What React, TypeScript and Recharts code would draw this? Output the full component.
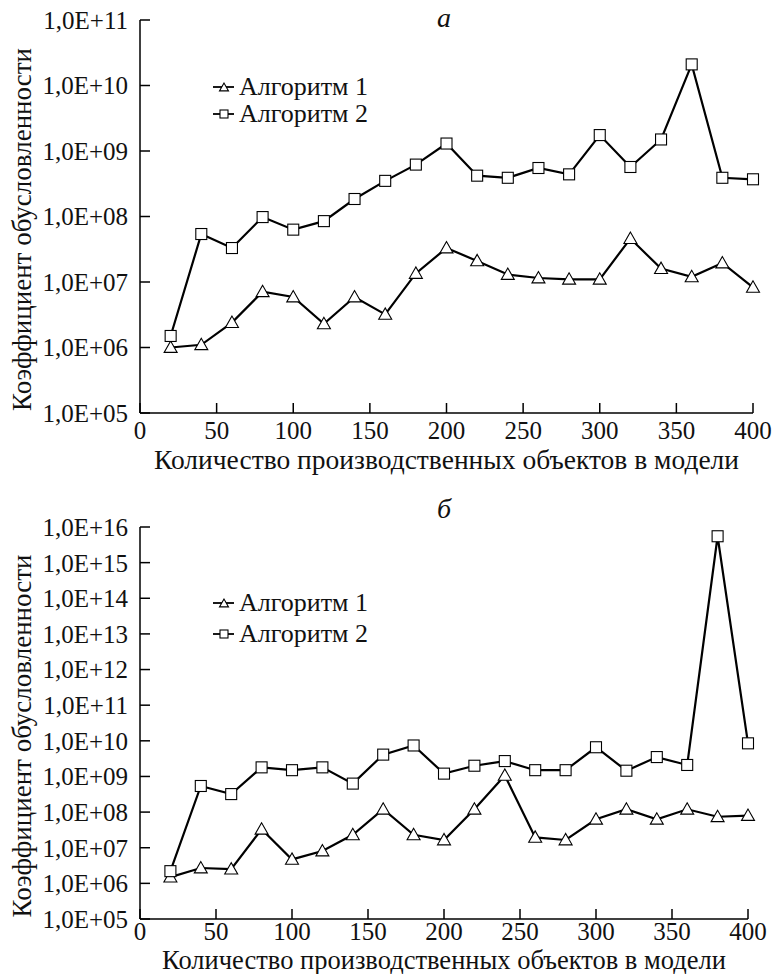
import {Legend, Line, LineChart, XAxis, YAxis} from 'recharts';

const FONT = 'Liberation Serif, DejaVu Serif, serif';

// number of production objects in the model
const objects = [20, 40, 60, 80, 100, 120, 140, 160, 180, 200, 220, 240, 260, 280, 300, 320, 340, 360, 380, 400];
const xTicks = [0, 50, 100, 150, 200, 250, 300, 350, 400];

// panel а
const algo1A = [1.0e6, 1.1e6, 2.4e6, 7.1e6, 5.9e6, 2.3e6, 5.9e6, 3.2e6, 1.35e7, 3.3e7, 2.1e7, 1.3e7, 1.15e7, 1.1e7, 1.1e7, 4.6e7, 1.6e7, 1.2e7, 1.95e7, 8.3e6];
const algo2A = [1.5e6, 5.4e7, 3.3e7, 9.8e7, 6.3e7, 8.5e7, 1.85e8, 3.5e8, 6.2e8, 1.3e9, 4.2e8, 3.9e8, 5.5e8, 4.4e8, 1.75e9, 5.7e8, 1.5e9, 2.1e10, 3.9e8, 3.7e8];
const yTicksA = [1e5, 1e6, 1e7, 1e8, 1e9, 1e10, 1e11];
const yLabelsA = ['1,0E+05', '1,0E+06', '1,0E+07', '1,0E+08', '1,0E+09', '1,0E+10', '1,0E+11'];

// panel б
const algo1B = [1.5e6, 2.7e6, 2.5e6, 3.3e7, 4.7e6, 8.1e6, 2.3e7, 1.2e8, 2.3e7, 1.65e7, 1.2e8, 1.07e9, 1.95e7, 1.65e7, 6.3e7, 1.2e8, 6.3e7, 1.2e8, 7.4e7, 8.0e7];
const algo2B = [2.2e6, 5.4e8, 3.2e8, 1.8e9, 1.5e9, 1.8e9, 6.3e8, 4.1e9, 7.4e9, 1.2e9, 2.0e9, 2.7e9, 1.5e9, 1.5e9, 6.6e9, 1.45e9, 3.5e9, 2.1e9, 5.5e15, 8.5e9];
const yTicksB = [1e5, 1e6, 1e7, 1e8, 1e9, 1e10, 1e11, 1e12, 1e13, 1e14, 1e15, 1e16];
const yLabelsB = ['1,0E+05', '1,0E+06', '1,0E+07', '1,0E+08', '1,0E+09', '1,0E+10', '1,0E+11', '1,0E+12', '1,0E+13', '1,0E+14', '1,0E+15', '1,0E+16'];

const seriesNames = ['Алгоритм 1', 'Алгоритм 2'];
const yTitle = 'Коэффициент обусловленности';
const xTitle = 'Количество производственных объектов в модели';

const Triangle = (props: any) => {
    const {cx, cy, size = 6.5} = props;
    if (cx == null || cy == null) return null;
    return <polygon points={`${cx},${cy - size} ${cx - size},${cy + size * 0.75} ${cx + size},${cy + size * 0.75}`}
                    fill="#fff" stroke="#000" strokeWidth={1.1}/>;
};

const Square = (props: any) => {
    const {cx, cy, size = 5.5} = props;
    if (cx == null || cy == null) return null;
    return <rect x={cx - size} y={cy - size} width={size * 2} height={size * 2} fill="#fff" stroke="#000"
                 strokeWidth={1.1}/>;
};

const legendContent = (rowHeight: number) => () => (
    <div style={{fontFamily: FONT, fontSize: 26, color: '#111'}}>
        {seriesNames.map((name, i) => (
            <div key={name} style={{display: 'flex', alignItems: 'center', height: rowHeight}}>
                <svg width={22} height={14} style={{marginRight: 4}}>
                    <line x1={0} y1={7} x2={21} y2={7} stroke="#000" strokeWidth={1.8}/>
                    {i === 0 ? <Triangle cx={11} cy={7.5} size={4.5}/> : <Square cx={11} cy={7} size={4}/>}
                </svg>
                <span>{name}</span>
            </div>
        ))}
    </div>
);

interface PanelProps {
    s1: number[];
    s2: number[];
    yTicks: number[];
    yLabels: string[];
    height: number;
    margin: { top: number; right: number; bottom: number; left: number };
    xAxisHeight: number;
    xTickMargin: number;
    xTitleOffset: number;
    xTitleSize: number;
    legendTop: number;
    legendRow: number;
}

function Panel(p: PanelProps) {
    const data = objects.map((n, i) => ({n, a1: p.s1[i], a2: p.s2[i]}));
    const tickStyle = {fill: '#111', fontSize: 25, fontFamily: FONT};
    return (
        <LineChart width={772} height={p.height} data={data} margin={p.margin}>
            <XAxis dataKey="n" type="number" domain={[0, 400]} ticks={xTicks} height={p.xAxisHeight}
                   tick={tickStyle} tickSize={-10} tickMargin={p.xTickMargin} stroke="#000" strokeWidth={1.5}
                   label={{
                       value: xTitle, position: 'insideBottom', offset: p.xTitleOffset,
                       style: {fill: '#111', fontSize: p.xTitleSize, fontFamily: FONT}
                   }}/>
            <YAxis type="number" scale="log" domain={[p.yTicks[0], p.yTicks[p.yTicks.length - 1]]} allowDataOverflow
                   ticks={p.yTicks} width={140} interval={0}
                   tickFormatter={(v: number) => p.yLabels[p.yTicks.indexOf(v)] ?? ''}
                   tick={tickStyle} tickSize={-10} tickMargin={22} stroke="#000" strokeWidth={1.5}
                   label={{
                       value: yTitle, angle: -90, position: 'center', dx: -49, dy: 13,
                       style: {fill: '#111', fontSize: 27, fontFamily: FONT}
                   }}/>
            <Legend layout="horizontal" verticalAlign="middle" align="center" content={legendContent(p.legendRow)}
                    wrapperStyle={{top: p.legendTop, left: 213, width: 220}}/>
            <Line dataKey="a1" name={seriesNames[0]} stroke="#000" strokeWidth={2.2} dot={<Triangle/>}
                  isAnimationActive={false}/>
            <Line dataKey="a2" name={seriesNames[1]} stroke="#000" strokeWidth={2.2} dot={<Square/>}
                  isAnimationActive={false}/>
        </LineChart>
    );
}

const titleStyle = {
    position: 'absolute' as const,
    left: 424,
    width: 40,
    textAlign: 'center' as const,
    fontFamily: FONT,
    fontStyle: 'italic',
    fontSize: 28,
    lineHeight: '30px',
    color: '#111',
};

export default function App() {
    return (
        <div style={{position: 'absolute', left: 0, top: 0, width: 772, height: 974, background: '#fff'}}>
            <div style={{position: 'absolute', left: 0, top: 0}}>
                <Panel s1={algo1A} s2={algo2A} yTicks={yTicksA} yLabels={yLabelsA} height={480}
                       margin={{top: 20, right: 19, bottom: 0, left: 0}} xAxisHeight={67} xTickMargin={18}
                       xTitleOffset={11} xTitleSize={27.5} legendTop={73.5} legendRow={27}/>
            </div>
            <div style={{position: 'absolute', left: 0, top: 480}}>
                <Panel s1={algo1B} s2={algo2B} yTicks={yTicksB} yLabels={yLabelsB} height={494}
                       margin={{top: 47, right: 24, bottom: 0, left: 0}} xAxisHeight={55} xTickMargin={13}
                       xTitleOffset={5} xTitleSize={26.5} legendTop={107.5} legendRow={31}/>
            </div>
            <div style={{...titleStyle, top: 3}}>а</div>
            <div style={{...titleStyle, top: 494}}>б</div>
        </div>
    );
}
